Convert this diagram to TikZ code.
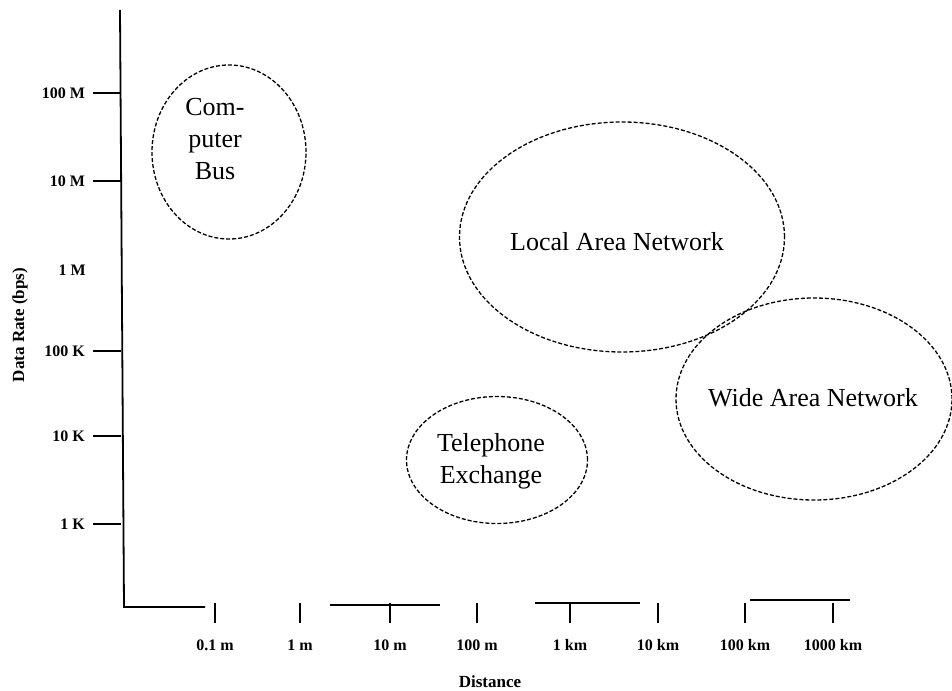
\documentclass[tikz,border=0pt]{standalone}
\usepackage{fontspec}
\setmainfont{Liberation Serif}
\usetikzlibrary{shapes.geometric}
\begin{document}
\begin{tikzpicture}[x=1pt,y=-1pt,
  region/.style={draw, ellipse, inner sep=0pt, line width=1.3pt,
    dash pattern=on 4pt off 2pt},
  regionlabel/.style={align=center, inner sep=0pt,
    font=\fontsize{26}{32}\selectfont},
  axisline/.style={line width=1.8pt},
  tickmark/.style={line width=2.2pt},
  ticklabel/.style={font=\fontsize{16}{18}\selectfont\bfseries, inner sep=1pt},
  axislabel/.style={font=\fontsize{17}{19}\selectfont\bfseries}]
\useasboundingbox (0,0) rectangle (952,690);
% axes
\coordinate (top) at (120,10);
\coordinate (origin) at (124,607);
\draw[axisline] (top) -- (origin) -- (205,607);
\draw[axisline] (330,605) -- (440,605);
\draw[axisline] (535,603) -- (640,603);
\draw[axisline] (750,600) -- (850,600);
% y ticks
\foreach \yy/\lab/\nm in {93/100 M/ya,181/10 M/yb,351/100 K/yd,436/10 K/ye,524/1 K/yf}{
  \coordinate (\nm) at (121,\yy);
  \draw[tickmark] (\nm) -- ++(-28,0) node[ticklabel, anchor=east, xshift=-6pt] (\nm l) {\lab};
}
\node[ticklabel, anchor=east] (yc) at (87,270) {1 M};
% x ticks
\foreach \xx/\lab/\nm in {215/0.1 m/xa,300/1 m/xb,390/10 m/xc,477/100 m/xd,570/1 km/xe,658/10 km/xf,745/100 km/xg,833/1000 km/xh}{
  \coordinate (\nm) at (\xx,603);
  \draw[tickmark] (\nm) -- ++(0,20) coordinate (\nm e);
  \node[ticklabel, anchor=center] (\nm l) at ([yshift=-22pt]\nm e) {\lab};
}
% axis labels
\node[axislabel, rotate=90] (ylab) at (20,325) {Data Rate (bps)};
\node[axislabel] (xlab) at (490,682) {Distance};
% regions
\node[region, minimum width=154pt, minimum height=174pt] (bus) at (229,152) {};
\node[regionlabel] (busl) at (215,139) {Com-\\puter\\Bus};
\node[region, minimum width=325pt, minimum height=230pt] (lan) at (622,237) {};
\node[regionlabel] (lanl) at (617,242) {Local Area Network};
\node[region, minimum width=276pt, minimum height=202pt] (wan) at (814,399) {};
\node[regionlabel] (wanl) at (813,398) {Wide Area Network};
\node[region, minimum width=181pt, minimum height=127pt] (tel) at (497,460) {};
\node[regionlabel] (tell) at (491,461) {Telephone\\Exchange};
\end{tikzpicture}
\end{document}
